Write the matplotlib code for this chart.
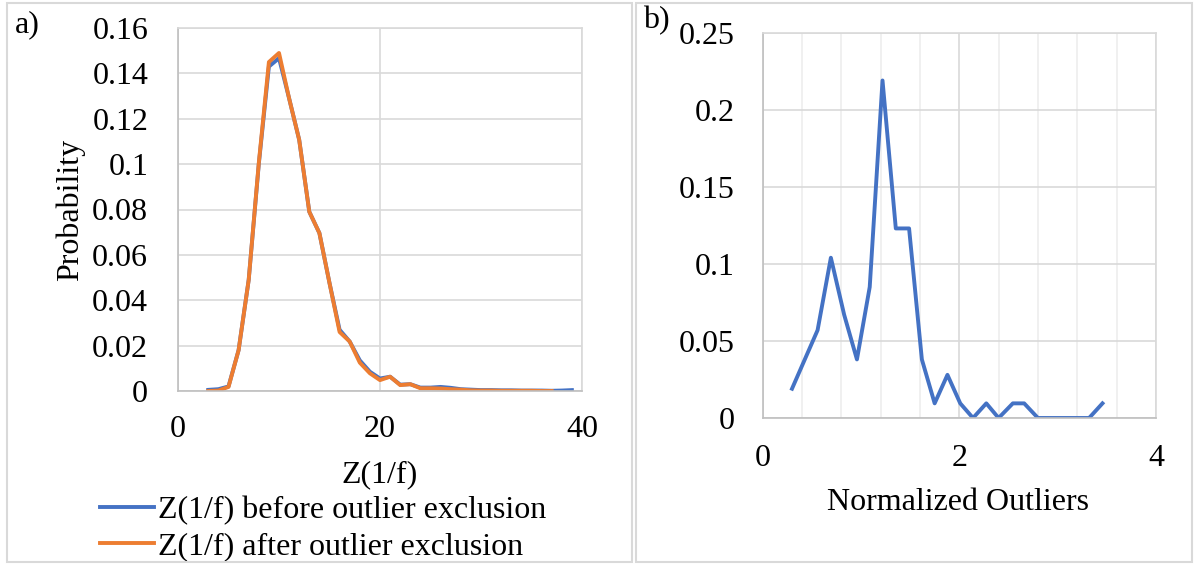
import matplotlib
matplotlib.use("Agg")
import matplotlib.pyplot as plt
from matplotlib.patches import Rectangle
from matplotlib.ticker import MultipleLocator, FuncFormatter

plt.rcParams['font.family'] = ['Liberation Serif', 'DejaVu Serif']

# ---- data panel a ----
z_before = list(range(3, 40))
p_before = [0.0005, 0.0008, 0.002, 0.018, 0.049, 0.100, 0.143, 0.1467, 0.129, 0.1107,
            0.079, 0.0696, 0.0476, 0.027, 0.0218, 0.0135, 0.0085, 0.0055, 0.0063, 0.0028,
            0.003, 0.0015, 0.0015, 0.0018, 0.0014, 0.0008, 0.0006, 0.0004, 0.0004, 0.0003,
            0.0003, 0.0002, 0.0002, 0.0002, 0.0001, 0.0002, 0.0004]
z_after = list(range(3, 38))
p_after = [0.0, 0.0002, 0.0018, 0.018, 0.049, 0.1005, 0.145, 0.149, 0.129, 0.1107,
           0.079, 0.0696, 0.0476, 0.026, 0.0218, 0.0125, 0.0078, 0.0048, 0.0063, 0.0026,
           0.003, 0.0012, 0.0012, 0.0011, 0.0008, 0.0006, 0.0003, 0.0002, 0.0002, 0.0001,
           0.0001, 0.0001, 0.0001, 0.0, 0.0]
label_before = "Z(1/f) before outlier exclusion"
label_after = "Z(1/f) after outlier exclusion"

# ---- data panel b ----
norm_outliers = [0.30, 0.43, 0.56, 0.695, 0.83, 0.96, 1.09, 1.22, 1.355, 1.49, 1.62, 1.75,
                 1.88, 2.01, 2.14, 2.275, 2.40, 2.545, 2.66, 2.80, 2.93, 3.06, 3.19, 3.32, 3.456]
prob_outliers = [0.019, 0.038, 0.057, 0.104, 0.067, 0.038, 0.085, 0.219, 0.123, 0.123, 0.038,
                 0.0095, 0.028, 0.0095, 0.0, 0.0095, 0.0, 0.0095, 0.0095, 0.0, 0.0, 0.0, 0.0,
                 0.0, 0.0095]

BLUE = '#4472C4'
ORANGE = '#ED7D31'
GRID = '#d9d9d9'
FS = 23
LW = 2.8

W, H = 1195, 564
fig = plt.figure(figsize=(W / 100, H / 100), dpi=100)

def fx(px):
    return px / W

def fy(py):
    return 1 - py / H

# panel borders
for x0, x1 in [(7, 632), (636, 1192)]:
    fig.add_artist(Rectangle((fx(x0), fy(562)), fx(x1) - fx(x0), fy(3) - fy(562),
                             transform=fig.transFigure, fill=False,
                             edgecolor=GRID, lw=1.5))

def fmt(v, pos):
    s = ('%.2f' % v).rstrip('0').rstrip('.')
    return s

# ---- panel a ----
axa = fig.add_axes([fx(178), fy(391), fx(582) - fx(178), fy(28) - fy(391)])
axa.plot(z_before, p_before, color=BLUE, lw=LW, label=label_before, solid_joinstyle='round')
axa.plot(z_after, p_after, color=ORANGE, lw=LW, label=label_after, solid_joinstyle='round')
axa.set_xlim(0, 40)
axa.set_ylim(0, 0.16)
axa.xaxis.set_major_locator(MultipleLocator(20))
axa.yaxis.set_major_locator(MultipleLocator(0.02))
axa.yaxis.set_major_formatter(FuncFormatter(fmt))
axa.grid(True, color=GRID, lw=1.2)
axa.set_axisbelow(True)
for s in axa.spines.values():
    s.set_color(GRID)
    s.set_linewidth(1.2)
axa.spines['bottom'].set_color('#bfbfbf')
axa.spines['left'].set_color('#bfbfbf')
axa.tick_params(axis='both', length=0, labelsize=FS)
axa.tick_params(axis='y', pad=21.5)
axa.tick_params(axis='x', pad=17.5)
fig.text(fx(380), fy(475), 'Z(1/f)', fontsize=FS, ha='center', va='center')
fig.text(fx(70), fy(210), 'Probability', fontsize=FS, ha='center', va='center', rotation=90)
axa.legend(loc='upper left', bbox_to_anchor=(fx(100), fy(496)), bbox_transform=fig.transFigure,
           frameon=False, fontsize=FS, handlelength=1.69, handletextpad=0.125,
           labelspacing=0.19, borderaxespad=0, borderpad=0)
fig.text(fx(15), fy(25), 'a)', fontsize=FS, ha='left', va='center')

# ---- panel b ----
axb = fig.add_axes([fx(762.5), fy(418), fx(1156) - fx(762.5), fy(32.7) - fy(418)])
axb.plot(norm_outliers, prob_outliers, color=BLUE, lw=LW, solid_joinstyle='round')
axb.set_xlim(0, 4)
axb.set_ylim(0, 0.25)
axb.xaxis.set_major_locator(MultipleLocator(2))
axb.xaxis.set_minor_locator(MultipleLocator(0.4))
axb.yaxis.set_major_locator(MultipleLocator(0.05))
axb.yaxis.set_major_formatter(FuncFormatter(fmt))
axb.grid(True, which='major', color=GRID, lw=1.2)
axb.grid(True, which='minor', axis='x', color='#eeeeee', lw=1.2)
axb.set_axisbelow(True)
for s in axb.spines.values():
    s.set_color(GRID)
    s.set_linewidth(1.2)
axb.spines['bottom'].set_color('#bfbfbf')
axb.spines['left'].set_color('#bfbfbf')
axb.tick_params(axis='both', which='both', length=0, labelsize=FS)
axb.tick_params(axis='y', pad=19.8)
axb.tick_params(axis='x', pad=19)
fig.text(fx(958), fy(502), 'Normalized Outliers', fontsize=FS, ha='center', va='center')
fig.text(fx(643), fy(21), 'b)', fontsize=FS, ha='left', va='center')

fig.savefig('out.png', dpi=100)
